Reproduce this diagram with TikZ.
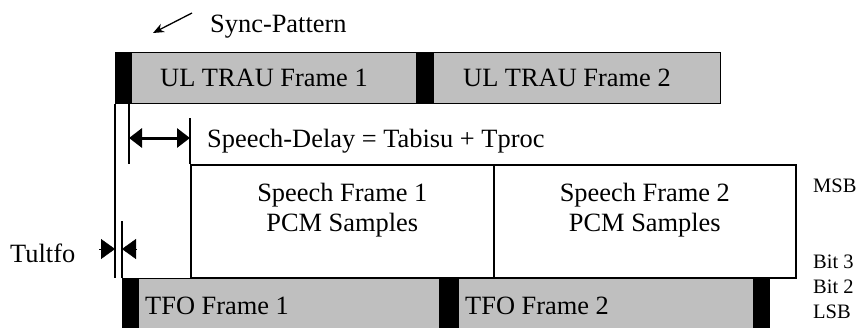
\documentclass[tikz,border=0pt]{standalone}
\usepackage{fontspec}
\setmainfont{Liberation Serif}
\usetikzlibrary{arrows.meta,positioning}

\begin{document}
\begin{tikzpicture}[x=1pt,y=-1pt,
        txt/.style={font=\fontsize{26.4}{30}\selectfont, inner sep=0pt},
        bitlbl/.style={font=\fontsize{20.5}{22}\selectfont, inner sep=0pt, anchor=base west},
        frame/.style={draw, line width=1.4pt, fill=gray!50, inner sep=0pt, anchor=north west},
        sync/.style={draw, line width=1.4pt, fill=black, inner sep=0pt, anchor=north west},
        speech/.style={draw, line width=1.6pt, fill=white, inner sep=0pt, anchor=north west},
        thin/.style={line width=1.6pt},
        delay/.style={line width=3pt, {Triangle[length=13pt,width=19pt]}-{Triangle[length=13pt,width=19pt]}},
        wedge/.style={line width=0.4pt, -{Triangle[length=14pt,width=20pt]}}]

        \useasboundingbox (0,0) rectangle (859,327);
        \clip (0,0) rectangle (859,327);

        \def \ultop {52}
        \def \ulh {51}
        \def \tfotop {278}
        \def \tfoh {60}

        % uplink TRAU frames
        \foreach \nm/\x/\w/\st in {uls1/115/16/sync, ulf1/131/285/frame, uls2/416/17/sync, ulf2/433/287/frame}{
            \node[\st, minimum width=\w pt, minimum height=\ulh pt] (\nm) at (\x,\ultop) {};
        };
        \node[txt, anchor=base west] (ulf1txt) at (160,86) {UL TRAU Frame 1};
        \node[txt, anchor=base west] (ulf2txt) at (463,86) {UL TRAU Frame 2};

        % TFO frames
        \foreach \nm/\x/\w/\st in {tfos1/122/16/sync, tfof1/138/301/frame, tfos2/439/19/sync, tfof2/458/295/frame, tfos3/753/16/sync}{
            \node[\st, minimum width=\w pt, minimum height=\tfoh pt] (\nm) at (\x,\tfotop) {};
        };
        \node[txt, anchor=base west] (tfof1txt) at (145,314) {TFO Frame 1};
        \node[txt, anchor=base west] (tfof2txt) at (465,314) {TFO Frame 2};

        % speech frames
        \node[speech, minimum width=303pt, minimum height=113pt] (sp1) at (190,164) {};
        \node[speech, minimum width=302pt, minimum height=113pt] (sp2) at (493,164) {};
        \node[txt, align=center, anchor=north] (sp1txt) at ([yshift=-19pt]sp1.north) {Speech Frame 1\\PCM Samples};
        \node[txt, align=center, anchor=north] (sp2txt) at ([yshift=-19pt]sp2.north) {Speech Frame 2\\PCM Samples};

        % sync pattern
        \node[txt, anchor=base west] (syncpat) at (210,32) {Sync-Pattern};
        \coordinate (synctail) at (192,13);
        \coordinate (synchead) at (153,33);
        \draw[line width=1.3pt, -{Stealth[length=11pt,width=9pt]}] (synctail) -- (synchead);

        % speech delay
        \coordinate (dl) at (129,164);
        \draw[thin] (dl |- uls1.south) -- (dl);
        \draw[thin] (sp1.north west) -- ++(0,-46);
        \draw[delay] (dl |- 0,138) -- (sp1.west |- 0,138);
        \node[txt, anchor=base west] (delaytxt) at (207,147) {Speech-Delay = Tabisu + Tproc};

        % Tultfo
        \draw[thin] (uls1.south west) -- (uls1.south west |- tfos1.north);
        \draw[thin] (tfos1.north west) -- (tfos1.north west |- 0,221);
        \node[txt, anchor=base west] (tultfo) at (10,262) {Tultfo};
        \coordinate (tl) at (99,249);
        \coordinate (tr) at (137,249);
        \draw[wedge] (tl) -- (uls1.west |- tl);
        \draw[wedge] (tr) -- (tfos1.west |- tr);

        % bit labels
        \node[bitlbl] (msb) at (813,192) {MSB};
        \node[bitlbl] (bit3) at (813,268) {Bit 3};
        \node[bitlbl] (bit2) at (813,293) {Bit 2};
        \node[bitlbl] (lsb) at (813,318) {LSB};
\end{tikzpicture}
\end{document}
